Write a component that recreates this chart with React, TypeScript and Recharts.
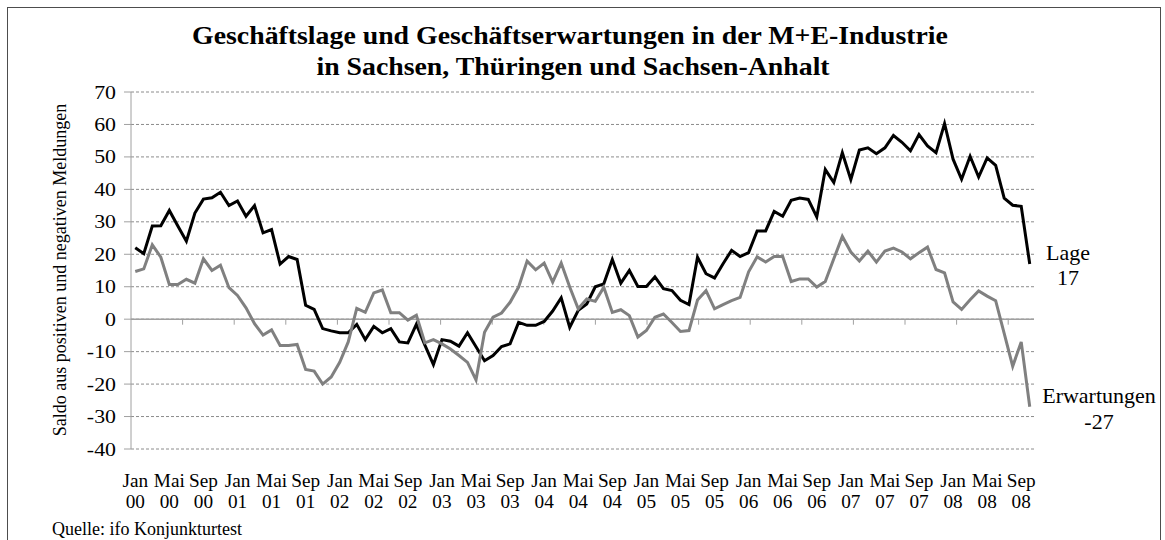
import { CartesianGrid, Line, LineChart, ReferenceLine, XAxis, YAxis } from "recharts";

const monthNames = ["Jan", "Feb", "Mär", "Apr", "Mai", "Jun", "Jul", "Aug", "Sep", "Okt", "Nov", "Dez"];
const years = ["00", "01", "02", "03", "04", "05", "06", "07", "08"];

// Saldo Geschäftslage, Jan 2000 - Okt 2008
const lage = [
  22, 20.2, 28.7, 28.8, 33.5, 28.7, 24, 32.7, 37, 37.4, 39.1, 35,
  36.4, 31.7, 35, 26.6, 27.6, 17, 19.3, 18.4, 4.3, 3, -2.9, -3.6,
  -4.2, -4.2, -1.6, -6.3, -2.2, -4.2, -2.9, -7, -7.3, -1.6, -8, -14,
  -6.3, -6.8, -8.3, -4.2, -8.5, -12.8, -11.2, -8.4, -7.6, -1, -1.9, -1.9,
  -0.7, 2.5, 6.6, -2.5, 2.7, 4.7, 10, 10.9, 18.4, 11.1, 15, 10.1,
  10.1, 13, 9.4, 8.8, 5.8, 4.5, 19.1, 14, 12.7, 17.1, 21.2, 19.3,
  20.5, 27.2, 27.2, 33.2, 31.7, 36.6, 37.3, 36.9, 31.5, 46.1, 42.1, 51.3,
  43, 52.1, 52.8, 51, 52.8, 56.6, 54.5, 51.9, 56.9, 53.4, 51.3, 60.3,
  49.3, 43.1, 50.2, 43.8, 49.7, 47.4, 37.3, 35.1, 34.8, 17,
];

// Saldo Geschäftserwartungen
const erwartungen = [
  14.7, 15.5, 22.9, 19.1, 10.7, 10.7, 12.3, 11.1, 18.6, 15, 16.6, 9.7,
  7.3, 3.5, -1.4, -4.9, -3.3, -8.1, -8.1, -7.8, -15.5, -16, -20, -17.8,
  -13.3, -7, 3.3, 2.1, 8.1, 9, 2, 2, -0.3, 1.2, -7.3, -6.3,
  -7.6, -9.2, -11.2, -13.3, -18.7, -4, 0.6, 1.9, 5.2, 9.9, 17.9, 15.2,
  17.3, 11.4, 17.3, 9.9, 3.2, 6.2, 5.5, 9.8, 2.1, 2.9, 1.1, -5.5,
  -3.5, 0.6, 1.6, -1, -3.8, -3.5, 5.9, 8.8, 3.2, 4.5, 5.7, 6.7,
  14.6, 19.2, 17.6, 19.3, 19.3, 11.6, 12.4, 12.4, 9.9, 11.6, 18.6, 25.5,
  20.7, 17.9, 21, 17.6, 21, 21.9, 20.7, 18.6, 20.5, 22.2, 15.3, 14.3,
  5.3, 3, 6, 8.7, 7.1, 5.7, -4.4, -14.5, -7, -27,
];

const yTicks = [-40, -30, -20, -10, 0, 10, 20, 30, 40, 50, 60, 70];

const months = years.flatMap((yr) => monthNames.map((m) => `${m} ${yr}`)).slice(0, lage.length);

const data = months.map((month, i) => ({ month, lage: lage[i], erwartungen: erwartungen[i] }));

// half-yearly tick marks sit on the category boundaries of the zero line
const halfYearMarks = Array.from({ length: Math.floor((months.length - 1) / 6) }, (_, i) => (i + 1) * 6);

const FONT = "'Liberation Serif', 'Times New Roman', serif";

const MonthTick = (props: any) => {
  const { x, y, payload } = props;
  const [m, yr] = String(payload.value).split(" ");
  return (
    <text transform={`translate(${x} ${y}) scale(1.04 1)`} textAnchor="middle" fontFamily={FONT} fontSize={18.5} fill="#000">
      <tspan x={0} y={38}>{m}</tspan>
      <tspan x={0} y={59}>{yr}</tspan>
    </text>
  );
};

const ValueTick = (props: any) => {
  const { x, y, payload } = props;
  return (
    <text transform={`translate(${x} ${y}) scale(1.15 1)`} dy={6.5} textAnchor="end" fontFamily={FONT} fontSize={19} fill="#000">
      {payload.value}
    </text>
  );
};

export default function App() {
  return (
    <div style={{ position: "absolute", left: 0, top: 0, width: 1165, height: 540, overflow: "hidden", background: "#fff" }}>
      <div
        style={{
          position: "absolute",
          left: 7,
          top: 7,
          width: 1152,
          height: 600,
          border: "1px solid #4d4d4d",
        }}
      />
      <div style={{ position: "absolute", left: 0, top: 0 }}>
        <LineChart width={1165} height={540} data={data} margin={{ top: 92, right: 131, bottom: 41, left: 71 }}>
          <CartesianGrid xAxisId="cat" vertical={false} stroke="#8c8c8c" strokeDasharray="3 2" />
          <XAxis
            xAxisId="cat"
            dataKey="month"
            type="category"
            interval={3}
            padding={{ left: 4.26, right: 4.26 }}
            axisLine={false}
            tickLine={false}
            tickSize={0}
            tickMargin={0}
            height={50}
            tick={<MonthTick />}
          />
          <XAxis xAxisId="num" type="number" domain={[0, months.length]} hide />
          <YAxis
            domain={[-40, 70]}
            ticks={yTicks}
            interval={0}
            width={60}
            axisLine={{ stroke: "#a0a0a0" }}
            tickLine={{ stroke: "#a0a0a0" }}
            tickSize={7}
            tickMargin={8}
            tick={<ValueTick />}
          />
          <ReferenceLine xAxisId="num" y={0} stroke="#a0a0a0" strokeWidth={1.5} />
          {halfYearMarks.map((m) => (
            <ReferenceLine
              key={m}
              xAxisId="num"
              segment={[
                { x: m, y: 0 },
                { x: m, y: -1.7 },
              ]}
              stroke="#a0a0a0"
              strokeWidth={1}
            />
          ))}
          <Line
            xAxisId="cat"
            dataKey="lage"
            name="Lage"
            stroke="#000"
            strokeWidth={3}
            dot={false}
            isAnimationActive={false}
          />
          <Line
            xAxisId="cat"
            dataKey="erwartungen"
            name="Erwartungen"
            stroke="#808080"
            strokeWidth={3}
            dot={false}
            isAnimationActive={false}
          />
        </LineChart>
      </div>
      <svg width={1165} height={540} style={{ position: "absolute", left: 0, top: 0, pointerEvents: "none" }} fontFamily={FONT}>
        <text transform="translate(570 44) scale(1.07 1)" textAnchor="middle" fontSize={26} fontWeight="bold">
          Geschäftslage und Geschäftserwartungen in der M+E-Industrie
        </text>
        <text transform="translate(573 75) scale(1.07 1)" textAnchor="middle" fontSize={26} fontWeight="bold">
          in Sachsen, Thüringen und Sachsen-Anhalt
        </text>
        <text transform="translate(66 270) rotate(-90)" textAnchor="middle" fontSize={18}>
          Saldo aus positiven und negativen Meldungen
        </text>
        <text x={1068} y={259.5} textAnchor="middle" fontSize={22}>Lage</text>
        <text x={1068} y={285} textAnchor="middle" fontSize={22}>17</text>
        <text x={1099} y={403} textAnchor="middle" fontSize={22}>Erwartungen</text>
        <text x={1099} y={429} textAnchor="middle" fontSize={22}>-27</text>
        <text x={52} y={535} fontSize={18}>Quelle: ifo Konjunkturtest</text>
      </svg>
    </div>
  );
}
